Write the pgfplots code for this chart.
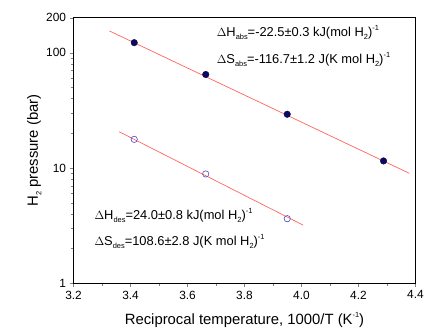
\documentclass[border=0pt]{standalone}
\usepackage{fontspec}
\setmainfont{Liberation Sans}
\usepackage{pgfplots}
\pgfplotsset{compat=1.18}
\definecolor{fitred}{RGB}{255,100,90}
\definecolor{navyfill}{RGB}{10,10,100}
\definecolor{openblue}{RGB}{70,70,200}
\newcommand{\sub}[1]{\raisebox{-0.45ex}{\fontsize{7.5}{8}\selectfont #1}}
\newcommand{\sups}[1]{\raisebox{0.9ex}{\fontsize{7.5}{8}\selectfont #1}}
\begin{document}
\begin{tikzpicture}[x=1bp,y=1bp]
\path (-74,-49) rectangle (353,285);
\begin{axis}[
  name=ax,
  at={(0,0)}, anchor=south west,
  scale only axis, width=344bp, height=267bp,
  ymode=log, xmin=3.2, xmax=4.4, ymin=1, ymax=200,
  xtick={3.2,3.4,...,4.4},
  minor x tick num=1,
  ytick={1,10,100,200}, yticklabels={1,10,100,200},
  minor ytick={2,3,4,5,6,7,8,9,20,30,40,50,60,70,80,90},
  tick align=outside,
  tick pos=left,
  major tick length=4bp, minor tick length=2.5bp,
  /pgf/number format/assume math mode=true,
  /pgf/number format/fixed, /pgf/number format/precision=1,
  /pgf/number format/fixed zerofill,
  ticklabel style={font=\fontsize{12}{13}\selectfont},
  xlabel={Reciprocal temperature, 1000/T (K\sups{-1})},
  ylabel={H\sub{2} pressure (bar)},
  label style={font=\fontsize{15}{16}\selectfont},
  xlabel style={yshift=-6bp},
  ylabel style={yshift=-2bp},
  axis line style={black, line width=1pt},
]
\addplot[fitred, line width=0.7pt] coordinates {(3.326,154) (4.379,8.97)};
\addplot[fitred, line width=0.7pt] coordinates {(3.360,20.6) (4.006,3.19)};
\addplot[only marks, mark=*, mark size=3.3pt, mark options={fill=navyfill, draw=navyfill!70!black}] coordinates {
(3.413,122) (3.664,64.6) (3.950,29.2) (4.288,11.5)};
\addplot[only marks, mark=o, mark size=3.2pt, mark options={draw=openblue, line width=0.6pt}] coordinates {
(3.413,17.7) (3.664,8.87) (3.950,3.63)};
\node[anchor=west, font=\fontsize{13}{14}\selectfont, inner sep=0pt] at (axis cs:3.702,148.6)
  {$\Delta$H\sub{abs}=-22.5±0.3 kJ(mol H\sub{2})\sups{-1}};
\node[anchor=west, font=\fontsize{13}{14}\selectfont, inner sep=0pt] at (axis cs:3.702,86.9)
  {$\Delta$S\sub{abs}=-116.7±1.2 J(K mol H\sub{2})\sups{-1}};
\node[anchor=west, font=\fontsize{13}{14}\selectfont, inner sep=0pt] at (axis cs:3.273,3.85)
  {$\Delta$H\sub{des}=24.0±0.8 kJ(mol H\sub{2})\sups{-1}};
\node[anchor=west, font=\fontsize{13}{14}\selectfont, inner sep=0pt] at (axis cs:3.273,2.30)
  {$\Delta$S\sub{des}=108.6±2.8 J(K mol H\sub{2})\sups{-1}};
\end{axis}
\draw[black, line width=1pt] (ax.south west) rectangle (ax.north east);
\end{tikzpicture}
\end{document}
